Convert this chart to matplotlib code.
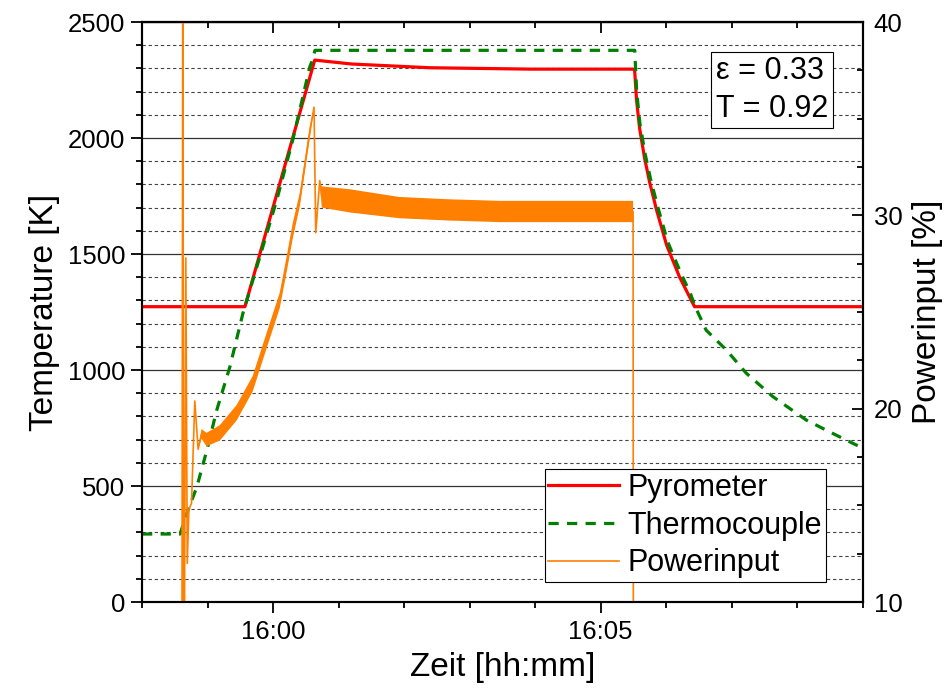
# heating run: pyrometer vs thermocouple vs power input

import numpy as np
import matplotlib
matplotlib.use('Agg')
from matplotlib import pyplot as plt
from matplotlib.ticker import MultipleLocator, FuncFormatter

plt.rcParams['font.family'] = ['Liberation Sans', 'DejaVu Sans']

# time in minutes after 16:00
pyro_t = [-2.0, -0.43, 0.636, 1.2, 2.39, 3.92, 5.49, 5.518, 5.548, 5.594, 5.670,
          5.747, 5.853, 6.006, 6.204, 6.357, 6.433, 9.0]
pyro_T = [1273, 1273, 2336, 2319, 2303, 2297, 2297, 2295, 2164, 2043, 1914,
          1810, 1690, 1539, 1401, 1315, 1273, 1273]

thermo_t = [-2.0, -1.42, -1.297, -1.164, -1.01, -0.859, -0.66, -0.46, -0.203, 0.056,
            0.30, 0.56, 0.605, 0.64, 5.52, 5.55, 5.60, 5.68, 5.76, 5.87,
            6.02, 6.22, 6.37, 6.44, 6.61, 6.92, 7.22, 7.63, 8.14, 8.54,
            8.90, 9.0]
thermo_T = [293, 293, 397, 496, 655, 828, 1013, 1245, 1487, 1733,
            1991, 2306, 2340, 2378, 2378, 2200, 2060, 1930, 1825, 1705,
            1555, 1420, 1330, 1275, 1172, 1086, 987, 885, 784, 727,
            677, 665]

power_t = [-2.0, -1.393, -1.378, -1.362, -1.332, -1.31, -1.285, -1.245, -1.195, -1.144,
           -1.092, -1.016, -0.813, -0.554, -0.310, -0.096, 0.102, 0.209, 0.30, 0.407,
           0.560, 0.625, 0.651, 0.712, 0.743, 1.17, 1.93, 2.70, 3.46, 4.22,
           4.98, 5.495, 5.50, 9.0]
power_mid = [0, 0, 45, 0, 27.8, 12.0, 14.8, 15.1, 20.4, 17.9,
             18.7, 18.4, 18.75, 19.8, 21.3, 23.55, 25.6, 27.5, 29.2, 30.8,
             34.3, 35.6, 29.1, 31.8, 30.95, 30.75, 30.4, 30.28, 30.2, 30.2,
             30.2, 30.2, 0, 0]
# half width of the noisy band
power_spread = [0, 0, 0, 0, 0, 0, 0, 0, 0, 0,
                0.25, 0.35, 0.4, 0.4, 0.4, 0.4, 0.4, 0.4, 0.4, 0.35,
                0.3, 0, 0, 0, 0.55, 0.6, 0.55, 0.55, 0.55, 0.55,
                0.55, 0.55, 0, 0]

labels = ['Pyrometer', 'Thermocouple', 'Powerinput']
note = '\u03b5 = 0.33\nT = 0.92'

c_pyro = '#FF0000'
c_thermo = '#008000'
c_power = '#FF8000'

fig = plt.figure(figsize=(9.47, 6.95), dpi=100)
ax1 = fig.add_axes([0.150, 0.1338, 0.761, 0.8345])
ax2 = ax1.twinx()

ax1.set_xlim(-2, 9)
ax1.set_ylim(0, 2500)
ax2.set_ylim(10, 40)

# grid: solid at 500, dashed at 100
ax1.yaxis.set_major_locator(MultipleLocator(500))
ax1.yaxis.set_minor_locator(MultipleLocator(100))
ax1.yaxis.grid(True, which='major', ls='-', color='#333333', lw=0.9)
ax1.yaxis.grid(True, which='minor', ls=(0, (3, 2.5)), color='#444444', lw=0.8)
ax1.set_axisbelow(True)

l1, = ax1.plot(pyro_t, pyro_T, color=c_pyro, lw=2.3, zorder=3)
l2, = ax1.plot(thermo_t, thermo_T, color=c_thermo, lw=2.3, dashes=(3.2, 2.6), zorder=3)

pt = np.array(power_t)
pm = np.array(power_mid)
ps = np.array(power_spread)
ax2.fill_between(pt, pm - ps, pm + ps, color=c_power, lw=0, zorder=2)
l3, = ax2.plot(pt, pm, color=c_power, lw=1.2, zorder=2)

# x axis in hh:mm
def hhmm(m, pos):
    tot = 16 * 60 + int(round(m))
    return '%d:%02d' % (tot // 60, tot % 60)

ax1.xaxis.set_major_locator(MultipleLocator(5))
ax1.xaxis.set_minor_locator(MultipleLocator(1))
ax1.xaxis.set_major_formatter(FuncFormatter(hhmm))

ax1.tick_params(axis='x', which='major', direction='out', length=8, width=1.3, labelsize=18.5, pad=5)
ax1.tick_params(axis='x', which='minor', direction='out', length=4.5, width=1.3)
ax1.tick_params(axis='y', which='major', direction='out', length=8, width=1.3, labelsize=18.5, pad=4)
ax1.tick_params(axis='y', which='minor', direction='out', length=4, width=1.3)

top = ax1.secondary_xaxis('top')
top.xaxis.set_major_locator(MultipleLocator(5))
top.xaxis.set_minor_locator(MultipleLocator(1))
top.tick_params(which='major', direction='in', length=8, width=1.3, labeltop=False)
top.tick_params(which='minor', direction='in', length=4.5, width=1.3)
top.spines['top'].set_linewidth(1.5)

ax2.yaxis.set_major_locator(MultipleLocator(10))
ax2.yaxis.set_minor_locator(MultipleLocator(2.5))
ax2.tick_params(axis='y', which='major', direction='in', length=8, width=1.3, labelsize=18.5, pad=8)
ax2.tick_params(axis='y', which='minor', direction='in', length=4, width=1.3)

for ax in (ax1, ax2):
    for s in ax.spines.values():
        s.set_linewidth(1.5)

ax1.set_xlabel('Zeit [hh:mm]', size=24, labelpad=6)
ax1.set_ylabel('Temperature [K]', size=24, labelpad=6)
ax2.set_ylabel('Powerinput [%]', size=24, labelpad=7)

leg = ax2.legend([l1, l2, l3], labels, loc='lower right', bbox_to_anchor=(0.949, 0.0345),
                 borderaxespad=0, fontsize=22, handlelength=2.3, handletextpad=0.3,
                 labelspacing=0.25, borderpad=0.12, fancybox=False, framealpha=1,
                 edgecolor='black')
leg.get_frame().set_linewidth(0.8)
leg.set_zorder(10)

ax2.text(0.796, 0.941, note, transform=ax2.transAxes, ha='left', va='top', size=22,
         linespacing=1.32, zorder=10,
         bbox=dict(boxstyle='square,pad=0.15', fc='white', ec='black', lw=0.8))

fig.savefig('out.png', dpi=100)
